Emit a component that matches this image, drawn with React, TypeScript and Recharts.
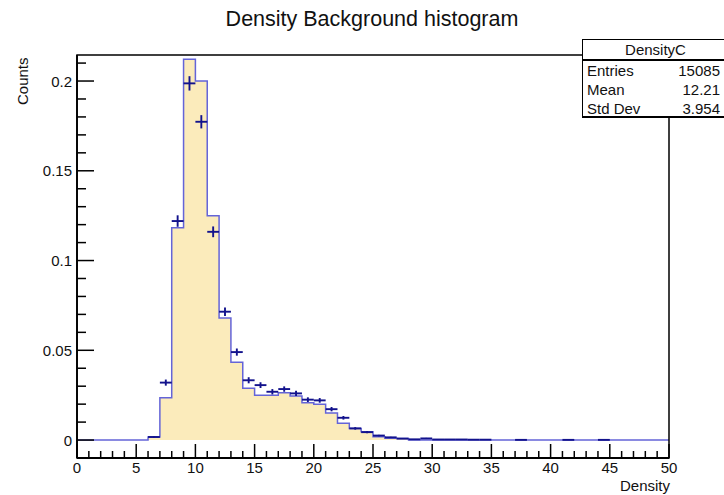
import React from 'react';
import { ComposedChart, Area, Scatter, ErrorBar, XAxis, YAxis, ReferenceArea } from 'recharts';

// Bin low edges (bin width 1) and the histogram content of each bin (last entry closes the step at 50)
const binEdges = [
  0, 1, 2, 3, 4, 5, 6, 7, 8, 9, 10, 11, 12, 13, 14, 15, 16, 17, 18, 19, 20, 21, 22, 23, 24, 25,
  26, 27, 28, 29, 30, 31, 32, 33, 34, 35, 36, 37, 38, 39, 40, 41, 42, 43, 44, 45, 46, 47, 48, 49, 50,
];
const histValues = [
  0, 0, 0, 0, 0, 0, 0.0017, 0.0236, 0.1183, 0.2121, 0.2, 0.125, 0.068, 0.0433, 0.0288, 0.025,
  0.025, 0.0264, 0.0245, 0.0208, 0.02, 0.015, 0.0093, 0.0065, 0.0046, 0.0018, 0.001, 0.0008,
  0, 0, 0, 0, 0, 0, 0, 0, 0, 0, 0, 0, 0, 0, 0, 0, 0, 0, 0, 0, 0, 0, 0,
];

// Data points (bin centres), their values and vertical errors
const pointX = [
  6.5, 7.5, 8.5, 9.5, 10.5, 11.5, 12.5, 13.5, 14.5, 15.5, 16.5, 17.5, 18.5, 19.5, 20.5, 21.5,
  22.5, 23.5, 24.5, 25.5, 26.5, 27.5, 28.5, 29.5, 30.5, 31.5, 32.5, 33.5, 34.5, 37.5, 41.5, 44.5,
];
const pointY = [
  0.0017, 0.032, 0.122, 0.1987, 0.1773, 0.116, 0.0715, 0.049, 0.0333, 0.0306, 0.0269, 0.0284,
  0.026, 0.0225, 0.0221, 0.0172, 0.0124, 0.0065, 0.0044, 0.0025, 0.0015, 0.0008, 0.0004, 0.0009,
  0.0003, 0.0003, 0.0003, 0.0002, 0.0002, 0.0001, 0.0001, 0.0001,
];
const pointErr = [
  0.0004, 0.0017, 0.0032, 0.004, 0.0037, 0.003, 0.0024, 0.002, 0.0017, 0.0016, 0.0015, 0.0015,
  0.0014, 0.0013, 0.0013, 0.0012, 0.001, 0.0007, 0.0006, 0.0004, 0.0003, 0.0002, 0.0002, 0.0003,
  0.0001, 0.0001, 0.0001, 0.0001, 0.0001, 0.0001, 0.0001, 0.0001,
];
const binHalfWidth = 0.5;

// Axis ticks
const xTicks = [
  0, 1, 2, 3, 4, 5, 6, 7, 8, 9, 10, 11, 12, 13, 14, 15, 16, 17, 18, 19, 20, 21, 22, 23, 24, 25,
  26, 27, 28, 29, 30, 31, 32, 33, 34, 35, 36, 37, 38, 39, 40, 41, 42, 43, 44, 45, 46, 47, 48, 49, 50,
];
const xMajorTicks = [0, 5, 10, 15, 20, 25, 30, 35, 40, 45, 50];
const yTicks = [
  0, 0.01, 0.02, 0.03, 0.04, 0.05, 0.06, 0.07, 0.08, 0.09, 0.1, 0.11, 0.12, 0.13, 0.14, 0.15,
  0.16, 0.17, 0.18, 0.19, 0.2, 0.21,
];
const yMajorTicks = [0, 0.05, 0.1, 0.15, 0.2];
const xDomain = [0, 50];
const yDomain = [-0.01, 0.2145];

const statsTitle = 'DensityC';
const statsLabels = ['Entries', 'Mean', 'Std Dev'];
const statsValues = ['15085', '12.21', '3.954'];

const histData = binEdges.map((x, i) => ({ x, h: histValues[i] }));
const pointData = pointX.map((x, i) => ({ x, y: pointY[i], ey: pointErr[i], ex: binHalfWidth }));

const FONT = '"Liberation Sans", Arial, Helvetica, sans-serif';
const INK = '#111';

const isMajor = (v: number, list: number[]) => list.some((m) => Math.abs(m - v) < 1e-9);

const XTick = (props: any) => {
  const { x, y, payload } = props;
  const major = isMajor(payload.value, xMajorTicks);
  return (
    <g>
      <line x1={x} y1={y} x2={x} y2={y - (major ? 14 : 7)} stroke="#000" strokeWidth={1.5} />
      {major && (
        <text x={x} y={y + 15} textAnchor="middle" fontSize={15} fill={INK} fontFamily={FONT}>
          {payload.value}
        </text>
      )}
    </g>
  );
};

const YTick = (props: any) => {
  const { x, y, payload } = props;
  const major = isMajor(payload.value, yMajorTicks);
  return (
    <g>
      <line x1={x} y1={y} x2={x + (major ? 17 : 9)} y2={y} stroke="#000" strokeWidth={1.5} />
      {major && (
        <text x={x - 5} y={y + 5.5} textAnchor="end" fontSize={15} fill={INK} fontFamily={FONT}>
          {String(payload.value)}
        </text>
      )}
    </g>
  );
};

export default function App() {
  return (
    <div
      style={{
        position: 'absolute',
        left: 0,
        top: 0,
        width: 724,
        height: 495,
        overflow: 'hidden',
        background: '#fff',
        fontFamily: FONT,
      }}
    >
      <ComposedChart
        width={724}
        height={495}
        margin={{ top: 55, right: 55, bottom: 0, left: 0 }}
      >
        <XAxis
          dataKey="x"
          type="number"
          domain={xDomain}
          ticks={xTicks}
          interval={0}
          allowDataOverflow
          tickSize={0}
          tickMargin={0}
          tickLine={false}
          axisLine={{ stroke: '#000', strokeWidth: 1.8 }}
          tick={<XTick />}
          height={37}
        />
        <YAxis
          type="number"
          domain={yDomain}
          ticks={yTicks}
          interval={0}
          allowDataOverflow
          tickSize={0}
          tickMargin={0}
          tickLine={false}
          axisLine={{ stroke: '#000', strokeWidth: 1.8 }}
          tick={<YTick />}
          width={77}
        />
        <Area
          data={histData}
          dataKey="h"
          type="stepAfter"
          stroke="#6464d8"
          strokeWidth={1.5}
          fill="#fbebbb"
          fillOpacity={1}
          dot={false}
          activeDot={false}
          isAnimationActive={false}
        />
        <ReferenceArea
          x1={xDomain[0]}
          x2={xDomain[1]}
          y1={yDomain[0]}
          y2={yDomain[1]}
          fill="none"
          fillOpacity={0}
          stroke="#000"
          strokeWidth={1.5}
          ifOverflow="visible"
        />
        <Scatter
          data={pointData}
          dataKey="y"
          shape={() => <g />}
          isAnimationActive={false}
        >
          <ErrorBar dataKey="ey" direction="y" width={0} stroke="#12128c" strokeWidth={1.9} />
          <ErrorBar dataKey="ex" direction="x" width={0} stroke="#12128c" strokeWidth={1.9} />
        </Scatter>
      </ComposedChart>

      {/* Title */}
      <div
        style={{
          position: 'absolute',
          left: 0,
          width: 744,
          top: 7,
          textAlign: 'center',
          fontSize: 21.5,
          color: INK,
          lineHeight: '24px',
        }}
      >
        Density Background histogram
      </div>

      {/* Y axis title */}
      <div
        style={{
          position: 'absolute',
          left: 14,
          top: 57,
          fontSize: 15,
          color: INK,
          lineHeight: '17px',
          transformOrigin: 'left top',
          transform: 'translate(0px, 48px) rotate(-90deg)',
          whiteSpace: 'nowrap',
        }}
      >
        Counts
      </div>

      {/* X axis title */}
      <div
        style={{
          position: 'absolute',
          right: 724 - 670,
          top: 477,
          fontSize: 15,
          color: INK,
          lineHeight: '17px',
          whiteSpace: 'nowrap',
        }}
      >
        Density
      </div>

      {/* Stats box */}
      <div
        style={{
          position: 'absolute',
          left: 582,
          top: 39,
          width: 160,
          height: 79,
          background: '#fff',
          borderTop: '1.5px solid #000',
          borderLeft: '1.5px solid #000',
          borderBottom: '2px solid #000',
          boxSizing: 'border-box',
          fontSize: 15,
          color: INK,
        }}
      >
        <div
          style={{
            height: 19,
            lineHeight: '19px',
            borderBottom: '2px solid #000',
            textAlign: 'center',
            width: 145,
          }}
        >
          {statsTitle}
        </div>
        {statsLabels.map((lab, i) => (
          <div
            key={lab}
            style={{
              position: 'absolute',
              left: 4,
              top: 22 + i * 19,
              width: 133,
              lineHeight: '18px',
              display: 'flex',
              justifyContent: 'space-between',
            }}
          >
            <span>{lab}</span>
            <span>{statsValues[i]}</span>
          </div>
        ))}
      </div>
    </div>
  );
}
